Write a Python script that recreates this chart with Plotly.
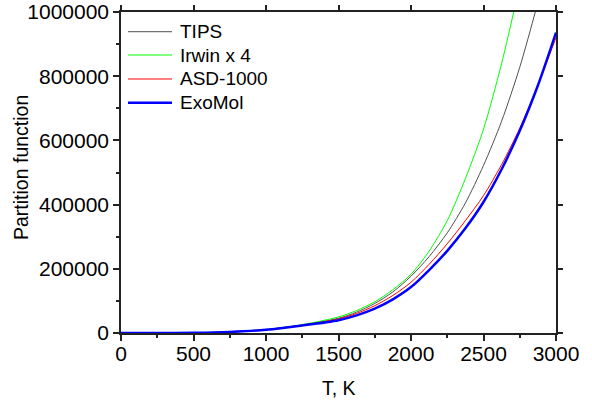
import plotly.graph_objects as go

# Temperature grid (K)
T_low = [0, 250, 500, 750, 1000, 1250]
T_high = [1500, 1625, 1750, 1875, 2000, 2125, 2250, 2375, 2500, 2625, 2750, 2875, 3000]

# TIPS
tips_T = T_low + [1500, 1625, 1750, 1875, 2000, 2125, 2250, 2375, 2500, 2625, 2750, 2857, 2900]
tips_Q = [0, 50, 700, 3400, 10500, 25000,
          46000, 65000, 92000, 128000, 177000, 238000, 312000, 405000, 522000, 660000, 828000, 1000000, 1075000]

# Irwin x 4
irwin_T = T_low + [1500, 1625, 1750, 1875, 2000, 2125, 2250, 2375, 2500, 2625, 2708, 2750]
irwin_Q = [0, 50, 700, 3500, 11000, 26000,
           50000, 70000, 97000, 135000, 183000, 255000, 350000, 481000, 635000, 840000, 1000000, 1090000]

# ASD-1000
asd_T = T_low + T_high
asd_Q = [0, 50, 700, 3400, 10500, 24500,
         44000, 61000, 85000, 117000, 158000, 214000, 278000, 350000, 428000, 525000, 638000, 772000, 920000]

# ExoMol
exo_T = T_low + T_high
exo_Q = [0, 50, 650, 3200, 10000, 23500,
         40000, 55000, 76000, 105000, 143000, 196000, 256000, 326000, 408000, 510000, 630000, 771000, 936000]

series_names = ["TIPS", "Irwin x 4", "ASD-1000", "ExoMol"]
series_colors = ["#505050", "#00ff00", "#ff0000", "#0000ff"]
series_widths = [1, 1, 1, 2.5]
series_data = [(tips_T, tips_Q), (irwin_T, irwin_Q), (asd_T, asd_Q), (exo_T, exo_Q)]

FONT = "Liberation Sans, Arial, sans-serif"
AX = "#222222"

fig = go.Figure()
for name, col, w, (tx, qy) in zip(series_names, series_colors, series_widths, series_data):
    fig.add_trace(go.Scatter(x=tx, y=qy, mode="lines", name=name, showlegend=False,
                             line=dict(color=col, width=w, shape="spline", smoothing=0.8)))

# legend drawn manually (paper coordinates inside the plot area)
leg_rows = [0.9386, 0.866, 0.7913, 0.7174]
for name, col, w, yy in zip(series_names, series_colors, series_widths, leg_rows):
    fig.add_shape(type="line", xref="paper", yref="paper", x0=0.0161, x1=0.1172, y0=yy, y1=yy,
                  line=dict(color=col, width=w))
    fig.add_annotation(xref="paper", yref="paper", x=0.131, y=yy, text=name, showarrow=False,
                       xanchor="left", yanchor="middle",
                       font=dict(family=FONT, size=19, color="black"))

tick_font = dict(family=FONT, size=21, color="black")
title_font = dict(family=FONT, size=19.5, color="black")

# axis titles
fig.add_annotation(xref="paper", yref="paper", x=0.5, y=-0.171, text="T, K", showarrow=False,
                   xanchor="center", yanchor="middle", font=title_font)
fig.add_annotation(xref="paper", yref="paper", x=-0.23, y=0.517, text="Partition function", showarrow=False,
                   textangle=-90, xanchor="center", yanchor="middle", font=title_font)

fig.update_xaxes(range=[0, 3000], tick0=0, dtick=500, automargin=False,
                 showline=True, linecolor=AX, linewidth=1.5, mirror=True,
                 ticks="outside", ticklen=6, tickwidth=1.5, tickcolor=AX,
                 ticklabelstandoff=-5,
                 showgrid=False, zeroline=False, tickfont=tick_font,
                 minor=dict(ticks="outside", ticklen=3, tickwidth=1.5, tickcolor=AX, dtick=250, showgrid=False))
fig.update_yaxes(range=[0, 1000000], tick0=0, dtick=200000, tickformat="d", automargin=False,
                 showline=True, linecolor=AX, linewidth=1.5, mirror=True,
                 ticks="outside", ticklen=6, tickwidth=1.5, tickcolor=AX,
                 showgrid=False, zeroline=False, tickfont=tick_font,
                 minor=dict(ticks="outside", ticklen=3, tickwidth=1.5, tickcolor=AX, dtick=100000, showgrid=False))

# mirrored major ticks only (top and right)
fig.update_layout(
    xaxis2=dict(overlaying="x", side="top", anchor="y", range=[0, 3000], tick0=0, dtick=500,
                ticks="outside", ticklen=6, tickwidth=1.5, tickcolor=AX, showticklabels=False,
                showgrid=False, zeroline=False, showline=False, automargin=False),
    yaxis2=dict(overlaying="y", side="right", anchor="x", range=[0, 1000000], tick0=0, dtick=200000,
                ticks="outside", ticklen=6, tickwidth=1.5, tickcolor=AX, showticklabels=False,
                showgrid=False, zeroline=False, showline=False, automargin=False),
)
fig.add_trace(go.Scatter(x=[None], y=[None], xaxis="x2", yaxis="y2", showlegend=False, hoverinfo="skip"))

fig.update_layout(
    width=592, height=403,
    margin=dict(l=121, r=36, t=12, b=70),
    paper_bgcolor="white", plot_bgcolor="white",
    font=dict(family=FONT, size=19, color="black"),
    showlegend=False,
)

fig.write_html("out.html")
